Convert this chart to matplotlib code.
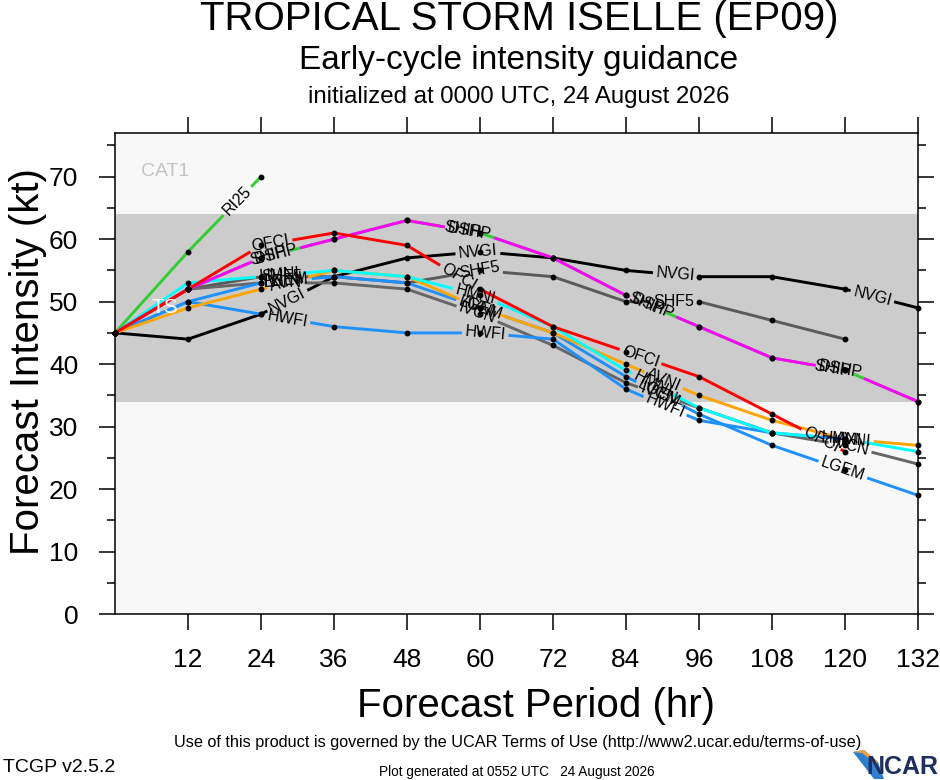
import numpy as np
import matplotlib
matplotlib.use("Agg")
import matplotlib.pyplot as plt
from matplotlib.ticker import MultipleLocator
from matplotlib.patches import Polygon

plt.rcParams['font.family'] = ['Liberation Sans', 'DejaVu Sans']

W, H = 940, 780

# forecast hours and intensity (kt) per model
hours = [0, 12, 24, 36, 48, 60, 72, 84, 96, 108, 120, 132]

ri25 = [45, 58, 70]
ship = [45, 52, 57, 60, 63, 61, 57, 51, 46, 41, 39, 34]
nvgi = [45, 44, 48, 54, 57, 58, 57, 55, 54, 54, 52, 49]
shf5 = [45, 52, 54, 54, 53, 55, 54, 50, 50, 47, 44]
ivcn = [45, 52, 53, 53, 52, 48, 43, 37, 33, 29, 27, 24]
hwfi = [45, 50, 48, 46, 45, 45, 44, 36, 31, 29, 28]
lgem = [45, 50, 53, 54, 53, 49, 45, 38, 32, 27, 23, 19]
avni = [45, 49, 52, 55, 54, 49, 45, 40, 35, 31, 28, 27]
hmni = [45, 53, 54, 55, 54, 51, 46, 39, 33, 29, 28, 26]
dshp = [45, 52, 57, 60, 63, 61, 57, 51, 46, 41, 39, 34]
ofci = [45, 52, 59, 61, 59, 52, 46, 42, 38, 32, 26]

# name, values, colour, label start offset (px)
models = [
    ('RI25', ri25, '#33cc33', 0),
    ('SHIP', ship, '#33cc33', -8),
    ('NVGI', nvgi, 'black', 0),
    ('SHF5', shf5, '#5a5a5a', 0),
    ('IVCN', ivcn, '#666666', 0),
    ('HWFI', hwfi, '#1e90ff', 0),
    ('LGEM', lgem, '#1e90ff', 0),
    ('AVNI', avni, '#ffa500', 0),
    ('HMNI', hmni, '#00ffff', 0),
    ('DSHP', dshp, '#ff00ff', 0),
    ('OFCI', ofci, '#ff0000', 0),
]

LABEL_START = 180   # arc length (px) of first line label
LABEL_STEP = 199    # spacing of line labels along the path
LABEL_SIZE = 11.5


def fpos(x, y):
    return x / W, 1 - y / H


fig = plt.figure(figsize=(W / 100, H / 100), dpi=100)
ax = fig.add_axes([115 / W, 166 / H, 803 / W, 481 / H])
ax.set_xlim(0, 132)
ax.set_ylim(0, 77)
ax.set_facecolor('#f8f8f8')
ax.axhspan(34, 64, color='#cccccc', zorder=0, lw=0)

ax.text(8.2, 70.8, 'CAT1', color='#c4c4c4', fontsize=14, ha='center', va='center')
ax.text(8.2, 49, 'TS', color='white', fontsize=15, ha='center', va='center', zorder=6)

ax.set_xticks(range(12, 133, 12))
ax.set_yticks(range(0, 71, 10))
ax.yaxis.set_minor_locator(MultipleLocator(5))
ax.tick_params(axis='x', which='major', direction='out', length=11.5, width=1.1,
               top=True, labeltop=False, labelsize=19, pad=13)
ax.tick_params(axis='y', which='major', direction='out', length=11.5, width=1.1,
               right=True, labelright=False, labelsize=19, pad=15)
ax.tick_params(axis='y', which='minor', direction='out', length=6, width=1.1, right=True)
for sp in ax.spines.values():
    sp.set_linewidth(1.1)

renderer = fig.canvas.get_renderer()
to_data = ax.transData.inverted()


def text_width(name):
    t = ax.text(0, 0, name, fontsize=LABEL_SIZE)
    w = t.get_window_extent(renderer).width
    t.remove()
    return w


def draw_model(name, vals, color, offset, z):
    xs = hours[:len(vals)]
    pts = ax.transData.transform(np.column_stack([xs, vals]))
    d = np.diff(pts, axis=0)
    seg = np.hypot(d[:, 0], d[:, 1])
    cum = np.concatenate([[0.0], np.cumsum(seg)])
    total = cum[-1]

    def at(s):
        i = min(max(np.searchsorted(cum, s, side='right') - 1, 0), len(seg) - 1)
        f = (s - cum[i]) / seg[i]
        return pts[i] + f * d[i], i

    w = text_width(name)
    gaps = []
    s = LABEL_START + offset
    while s < total - w / 2:
        p, i = at(s)
        ang = np.degrees(np.arctan2(d[i, 1], d[i, 0]))
        xd, yd = to_data.transform(p)
        ax.text(xd, yd, name, fontsize=LABEL_SIZE, rotation=ang, rotation_mode='anchor',
                ha='center', va='center', zorder=z + 0.5)
        gaps.append((s - w / 2 - 3, s + w / 2 + 3))
        s += LABEL_STEP

    bounds = [0.0]
    for a, b in gaps:
        bounds += [a, b]
    bounds.append(total)
    for a, b in zip(bounds[0::2], bounds[1::2]):
        if b <= a:
            continue
        piece = [at(a)[0]]
        piece += [pts[k] for k in range(len(pts)) if a < cum[k] < b]
        piece.append(at(b)[0])
        piece = to_data.transform(np.array(piece))
        ax.plot(piece[:, 0], piece[:, 1], color=color, lw=2.1,
                solid_capstyle='butt', zorder=z, clip_on=False)
    ax.plot(xs, vals, ls='none', marker='o', ms=3.2, color='black', zorder=8,
            clip_on=False)


for k, (name, vals, color, offset) in enumerate(models):
    draw_model(name, vals, color, offset, 2 + k * 0.1)

# titles
fig.text(*fpos(519, 19), 'TROPICAL STORM ISELLE (EP09)', fontsize=29, ha='center', va='center')
fig.text(*fpos(519, 61), 'Early-cycle intensity guidance', fontsize=24, ha='center', va='center')
fig.text(*fpos(519, 97), 'initialized at 0000 UTC, 24 August 2026', fontsize=17.3,
         ha='center', va='center')

# axis labels
fig.text(*fpos(536, 706), 'Forecast Period (hr)', fontsize=29, ha='center', va='center')
fig.text(*fpos(28, 362), 'Forecast Intensity (kt)', fontsize=29, ha='center', va='center',
         rotation=90)

# footer
fig.text(*fpos(518, 742), 'Use of this product is governed by the UCAR Terms of Use '
         '(http://www2.ucar.edu/terms-of-use)', fontsize=11.7, ha='center', va='center')
fig.text(*fpos(3, 767), 'TCGP v2.5.2', fontsize=14, ha='left', va='center')
fig.text(*fpos(517, 772), 'Plot generated at 0552 UTC   24 August 2026', fontsize=9.8,
         ha='center', va='center')

# NCAR logo (rough)
swoosh = Polygon([fpos(853, 752), fpos(864, 750), fpos(878, 762), fpos(884, 779),
                  fpos(874, 779)], closed=True, transform=fig.transFigure,
                 color='#2f7fd0', lw=0)
edge = Polygon([fpos(853, 752), fpos(864, 750), fpos(878, 762), fpos(876, 764),
                fpos(862, 753)], closed=True, transform=fig.transFigure,
               color='#f0a040', lw=0)
fig.patches.extend([swoosh, edge])
fig.text(*fpos(938, 767), 'NCAR', fontsize=18, fontweight='bold', color='#1c2f5e',
         ha='right', va='center')

fig.savefig('out.png', dpi=100)
